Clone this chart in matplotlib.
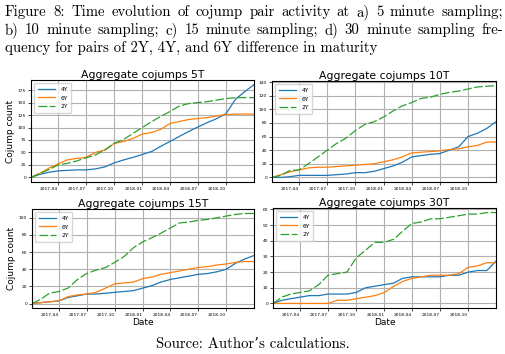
import numpy as np
import pandas as pd
import matplotlib
matplotlib.use("Agg")
import matplotlib.pyplot as plt
import matplotlib.dates as mdates

# --- data (cumulative cojump counts, read at month starts) ---
dates = pd.to_datetime(["2017-01-03"] +
                       [d.strftime("%Y-%m-%d") for d in pd.date_range("2017-02-01", "2018-12-01", freq="MS")] +
                       ["2018-12-31"])

panels = ["5T", "10T", "15T", "30T"]

y4_5T = [0, 6, 10, 13, 14, 15, 15, 17, 21, 29, 35, 40, 46, 52, 62, 72, 82, 92, 101, 110, 118, 128, 157, 172, 186]
y6_5T = [0, 8, 18, 27, 35, 38, 40, 50, 55, 68, 72, 78, 87, 90, 96, 108, 112, 116, 118, 120, 123, 126, 127, 127, 127]
y2_5T = [0, 8, 15, 25, 28, 33, 39, 45, 55, 68, 76, 88, 100, 112, 122, 132, 143, 148, 150, 152, 155, 158, 160, 160, 160]

y4_10T = [0, 0, 1, 3, 3, 3, 3, 4, 5, 7, 7, 9, 13, 17, 22, 30, 32, 34, 35, 40, 45, 60, 65, 72, 82]
y6_10T = [0, 4, 8, 11, 14, 15, 15, 16, 17, 18, 19, 20, 23, 26, 30, 36, 37, 38, 39, 41, 42, 45, 47, 52, 52]
y2_10T = [0, 3, 10, 11, 20, 30, 40, 50, 58, 69, 78, 82, 89, 98, 105, 110, 116, 118, 122, 125, 127, 130, 133, 134, 135]

y4_15T = [0, 1, 2, 3, 7, 9, 11, 11, 12, 13, 14, 15, 18, 21, 25, 28, 30, 32, 34, 35, 37, 40, 47, 52, 56]
y6_15T = [0, 1, 2, 3, 8, 10, 11, 13, 18, 23, 24, 25, 29, 31, 34, 36, 38, 40, 42, 43, 45, 46, 48, 49, 49]
y2_15T = [0, 5, 12, 14, 18, 28, 35, 39, 42, 48, 55, 65, 72, 77, 82, 88, 94, 95, 97, 98, 100, 102, 104, 105, 105]

y4_30T = [0, 2, 3, 4, 5, 5, 6, 6, 6, 7, 10, 11, 12, 13, 16, 17, 17, 17, 17, 18, 18, 20, 21, 21, 27]
y6_30T = [0, 0, 0, 0, 0, 0, 0, 2, 2, 3, 4, 5, 7, 11, 14, 16, 17, 18, 18, 18, 19, 23, 24, 26, 26]
y2_30T = [0, 4, 6, 7, 8, 12, 18, 19, 20, 29, 34, 39, 39, 41, 46, 51, 52, 54, 54, 55, 56, 57, 57, 58, 58]

series = {
    "5T": (y4_5T, y6_5T, y2_5T),
    "10T": (y4_10T, y6_10T, y2_10T),
    "15T": (y4_15T, y6_15T, y2_15T),
    "30T": (y4_30T, y6_30T, y2_30T),
}

caption = ["Figure 8: Time evolution of cojump pair activity at a) 5 minute sampling;",
           "b) 10 minute sampling; c) 15 minute sampling; d) 30 minute sampling fre-",
           "quency for pairs of 2Y, 4Y, and 6Y difference in maturity"]
source = "Source: Author\u2019s calculations."

# --- figure ---
W, H = 506, 354
fig = plt.figure(figsize=(W / 100, H / 100), dpi=100)

# axes boxes in pixels: left, top, right, bottom
boxes = [(31, 80, 254, 182), (272, 81, 496, 182), (32, 209, 254, 308), (273, 208, 496, 308)]

serif = ["cmr10", "DejaVu Serif"]
x0, x1 = 5, 503
renderer = fig.canvas.get_renderer()


def text_width(s, fs):
    t = fig.text(0, 0, s, fontsize=fs, family=serif)
    w = t.get_window_extent(renderer).width
    t.remove()
    return w


# size the caption so the last (unstretched) line is as wide as in the paper
cap_fs = 10 * 374 / text_width(caption[-1], 10)

for i, line in enumerate(caption):
    ybase = 1 - (16 + 18 * i) / H
    if i == len(caption) - 1:
        fig.text(x0 / W, ybase, line, fontsize=cap_fs, family=serif, ha="left", va="baseline")
        continue
    # justified line: stretch the spaces so the line ends at x1
    words = line.split(" ")
    extra = (x1 - x0 - text_width(line, cap_fs)) / (len(words) - 1)
    for j, w in enumerate(words):
        xs = x0 + text_width(" ".join(words[:j + 1]), cap_fs) - text_width(w, cap_fs) + j * extra
        fig.text(xs / W, ybase, w, fontsize=cap_fs, family=serif, ha="left", va="baseline")
fig.text(253 / W, 1 - 348 / H, source, fontsize=cap_fs, family=serif, ha="center", va="baseline")

for k, (name, box) in enumerate(zip(panels, boxes)):
    l, t, r, b = box
    ax = fig.add_axes([l / W, 1 - b / H, (r - l) / W, (b - t) / H])
    y4, y6, y2 = series[name]
    ax.plot(dates, y4, color="#1f77b4", lw=0.9, label="4Y")
    ax.plot(dates, y6, color="#ff7f0e", lw=0.9, label="6Y")
    ax.plot(dates, y2, color="#2ca02c", lw=0.9, dashes=(7, 2), label="2Y")
    ax.set_xlim(dates[0], dates[-1])
    ax.margins(y=0.05)
    ax.grid(True, color="#b0b0b0", lw=0.8)
    ax.xaxis.set_major_locator(mdates.MonthLocator(bymonth=[1, 4, 7, 10]))
    ax.xaxis.set_major_formatter(mdates.DateFormatter("%Y-%m"))
    ax.tick_params(labelsize=3.2, length=2, width=0.5, pad=1.5)
    for lab in ax.get_xticklabels():
        lab.set_ha("right")
    for s in ax.spines.values():
        s.set_color("black")
        s.set_linewidth(0.8)
    ax.set_title("Aggregate cojumps " + name, fontsize=7.8, pad=1.5)
    ax.legend(loc="upper left", fontsize=4.3, handlelength=3.0, borderpad=0.6,
              labelspacing=0.6, framealpha=0.8)
    if k % 2 == 0:
        ax.set_ylabel("Cojump count", fontsize=6.5, labelpad=2)
    if k >= 2:
        ax.set_xlabel("Date", fontsize=6.5, labelpad=1)

fig.savefig("out.png", dpi=100)
